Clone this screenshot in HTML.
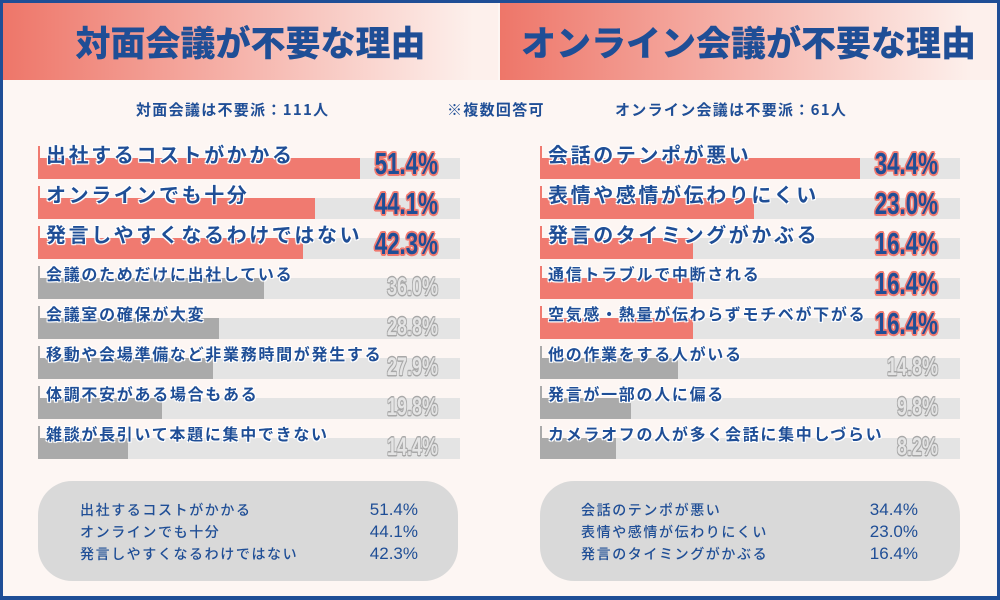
<!DOCTYPE html>
<html><head><meta charset="utf-8"><style>
*{margin:0;padding:0;box-sizing:border-box}
body{width:1000px;height:600px;overflow:hidden;background:#1f4e96;font-family:"Liberation Sans","Noto Sans CJK JP",sans-serif}
#f{position:absolute;left:3px;top:3px;width:994px;height:593px;background:#fdf6f3}
.h{position:absolute;top:3px;height:77px;color:#1f4e96;font-weight:900;display:flex;align-items:center;justify-content:center;font-family:"Noto Sans CJK JP",sans-serif}
.a{position:absolute;color:#1f4e96;font-family:"Noto Sans CJK JP",sans-serif;font-weight:700;white-space:nowrap;letter-spacing:1.3px}
.tr{position:absolute;height:21px;background:#e4e4e4}
.b{position:absolute;height:21px}
.tk{position:absolute;width:2px;height:14px}
.l{position:absolute;color:#1f4e96;font-family:"Noto Sans CJK JP",sans-serif;font-weight:700;white-space:nowrap;text-shadow:0 0 2px #fff,0 0 2px #fff,1px 1px 0 #fff,-1px -1px 0 #fff,1px -1px 0 #fff,-1px 1px 0 #fff}
.p{position:absolute;font-family:"Liberation Sans Narrow","Liberation Sans",sans-serif;font-weight:700;text-align:right;width:140px;transform-origin:right center;transform:scaleX(.72)}
.pr{color:#1f4e96;font-size:31px;text-shadow:1.5px 1.5px 0 #f07a70,-1.5px -1.5px 0 #f07a70,1.5px -1.5px 0 #f07a70,-1.5px 1.5px 0 #f07a70,0 2px 0 #f07a70,0 -2px 0 #f07a70,2px 0 0 #f07a70,-2px 0 0 #f07a70}
.pg{color:#e4e4e4;font-size:25px;text-shadow:1px 1px 0 #a8a8a8,-1px -1px 0 #a8a8a8,1px -1px 0 #a8a8a8,-1px 1px 0 #a8a8a8,0 1.5px 0 #a8a8a8,0 -1.5px 0 #a8a8a8}
.box{position:absolute;top:481px;width:420px;height:100px;background:#d9d9d9;border-radius:34px}
.bx{position:absolute;font-size:14px;color:#1f4e96;font-family:"Noto Sans CJK JP",sans-serif;font-weight:500;line-height:22px;white-space:nowrap;letter-spacing:1.6px}
.bn{letter-spacing:0;font-family:"Liberation Sans",sans-serif;font-size:17px;text-align:right}
</style></head><body>
<div id="f"></div>
<div class="h" style="left:3px;width:495px;background:linear-gradient(90deg,#ee7669,#fdf0ec 95%);font-size:35px">対面会議が不要な理由</div>
<div class="h" style="left:500px;width:497px;background:linear-gradient(90deg,#ee7669,#fdf0ec 95%);font-size:35px">オンライン会議が不要な理由</div>
<div class="a" style="left:136px;top:99px;font-size:15px">対面会議は不要派：111人</div>
<div class="a" style="left:447px;top:99px;font-size:15px">※複数回答可</div>
<div class="a" style="left:615px;top:99px;font-size:15px">オンライン会議は不要派：61人</div>
<div id="c"></div>
<div class="box" style="left:38px"></div>
<div class="box" style="left:540px"></div>
<div class="bx" style="left:80px;top:499px">出社するコストがかかる<br>オンラインでも十分<br>発言しやすくなるわけではない</div>
<div class="bx bn" style="left:350px;top:499px;width:68px">51.4%<br>44.1%<br>42.3%</div>
<div class="bx" style="left:581px;top:499px">会話のテンポが悪い<br>表情や感情が伝わりにくい<br>発言のタイミングがかぶる</div>
<div class="bx bn" style="left:850px;top:499px;width:68px">34.4%<br>23.0%<br>16.4%</div>
<script>
var L=[["出社するコストがかかる",51.4,1,1],["オンラインでも十分",44.1,1,1],["発言しやすくなるわけではない",42.3,1,1],["会議のためだけに出社している",36.0,0,0],["会議室の確保が大変",28.8,0,0],["移動や会場準備など非業務時間が発生する",27.9,0,0],["体調不安がある場合もある",19.8,0,0],["雑談が長引いて本題に集中できない",14.4,0,0]];
var R=[["会話のテンポが悪い",34.4,1,1],["表情や感情が伝わりにくい",23.0,1,1],["発言のタイミングがかぶる",16.4,1,1],["通信トラブルで中断される",16.4,1,0],["空気感・熱量が伝わらずモチベが下がる",16.4,1,0],["他の作業をする人がいる",14.8,0,0],["発言が一部の人に偏る",9.8,0,0],["カメラオフの人が多く会話に集中しづらい",8.2,0,0]];
var h="";
function draw(D,x0,x1,sc){D.forEach(function(d,i){var y=158+40*i;var col=d[2]?"#f07a70":"#aaaaaa";
h+='<div class="tr" style="left:'+x0+'px;top:'+y+'px;width:'+(x1-x0)+'px"></div>';
h+='<div class="b" style="left:'+x0+'px;top:'+y+'px;width:'+(d[1]*sc)+'px;background:'+col+'"></div>';
h+='<div class="tk" style="left:'+x0+'px;top:'+(y-12)+'px;background:'+col+'"></div>';
var fs=d[3]?20:16, ls=d[3]?2.6:1.7;
h+='<div class="l" style="left:'+(x0+8)+'px;top:'+(y-(d[3]?19:17))+'px;font-size:'+fs+'px;letter-spacing:'+ls+'px">'+d[0]+'</div>';
h+='<div class="p '+(d[2]?'pr':'pg')+'" style="left:'+(x1-162)+'px;top:'+(y+(d[2]?-12:-5))+'px">'+d[1].toFixed(1)+'%</div>';
});}
draw(L,38,460,6.27);draw(R,540,960,9.3);
document.getElementById("c").innerHTML=h;
</script>
</body></html>
